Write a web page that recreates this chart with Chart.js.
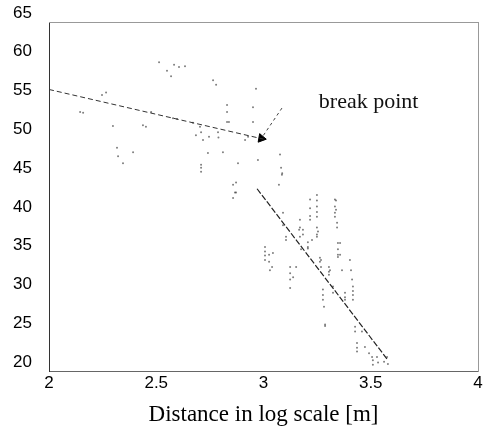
<!DOCTYPE html>
<html>
<head>
<meta charset="utf-8">
<script src="https://cdn.jsdelivr.net/npm/chart.js@4"></script>
<style>
    body { margin: 0; background: #fff; }
    #wrap { width: 485px; height: 438px; position: relative; }
</style>
</head>
<body>
<div id="wrap"><canvas id="chart"></canvas></div>
<script>
// Nuvem de pontos (distancia em log, valor)
const scatterX = [
    2.145, 2.159, 2.247, 2.266, 2.298, 2.317, 2.322, 2.345, 2.392, 2.438, 2.452, 2.476,
    2.513, 2.55, 2.569, 2.583, 2.606, 2.634, 2.578, 2.597, 2.671, 2.685, 2.704, 2.718,
    2.741, 2.746, 2.709, 2.709, 2.709, 2.709, 2.765, 2.779, 2.788, 2.79, 2.811, 2.83,
    2.83, 2.83, 2.839, 2.858, 2.867, 2.858, 2.881, 2.914, 2.928,
    2.872, 2.872, 2.951, 2.951, 2.965, 2.974, 3.077, 3.082, 3.087, 3.072, 3.086,
    3.007, 3.007, 3.007, 3.007, 3.026, 3.026, 3.040, 3.030, 3.044,
    3.091, 3.091, 3.105, 3.105,
    3.124, 3.124, 3.124, 3.124, 3.138, 3.152,
    3.170, 3.170, 3.170, 3.184, 3.184, 3.175, 3.166,
    3.207, 3.207, 3.207, 3.226,
    3.217, 3.217, 3.217, 3.217,
    3.249, 3.249, 3.249, 3.249, 3.249, 3.249, 3.249, 3.249, 3.254,
    3.263, 3.263, 3.268, 3.268,
    3.277, 3.277, 3.277, 3.282, 3.287, 3.287,
    3.305, 3.305, 3.305, 3.310,
    3.324, 3.324,
    3.333, 3.333, 3.333, 3.333, 3.338, 3.338, 3.343, 3.343, 3.347, 3.347, 3.347, 3.347,
    3.357, 3.357, 3.366,
    3.380, 3.380, 3.380,
    3.403, 3.408, 3.413, 3.417, 3.417, 3.417, 3.417,
    3.427, 3.427, 3.436, 3.436, 3.436,
    3.459, 3.473, 3.492, 3.506, 3.510, 3.510,
    3.529, 3.534, 3.562, 3.576, 3.58
];
const scatterY = [
    53.4, 53.3, 55.6, 55.9, 51.6, 48.8, 47.7, 46.8, 48.2, 51.7, 51.5, 53.4,
    59.8, 58.7, 58.0, 59.5, 59.2, 59.3, 52.6, 52.5, 52.0, 50.4, 51.5, 49.8,
    48.1, 50.2, 50.8, 46.6, 46.2, 45.7, 57.5, 56.9, 50.8, 50.1, 48.2, 54.3,
    53.4, 52.1, 52.1, 44.0, 43.0, 42.3, 46.8, 49.8, 50.2,
    44.3, 43.0, 54.0, 52.1, 56.4, 47.2, 47.9, 46.2, 45.5, 44.0, 45.3,
    36.0, 35.4, 34.9, 34.3, 34.1, 35.0, 33.4, 33.0, 35.2,
    38.8, 40.4, 37.3, 36.9,
    33.4, 32.6, 31.8, 30.7, 32.1, 33.4,
    39.5, 38.5, 37.3, 38.2, 37.6, 35.7, 38.2,
    36.0, 36.6, 35.8, 36.9,
    42.1, 41.0, 40.0, 39.5,
    42.7, 42.0, 41.2, 40.5, 39.9, 38.5, 37.6, 37.3, 38.0,
    34.6, 34.1, 34.3, 33.4,
    30.5, 29.8, 29.2, 28.3, 26.0, 25.8,
    33.4, 32.8, 32.4, 33.0,
    30.9, 30.1,
    42.1, 41.2, 40.4, 39.9, 42.0, 40.8, 39.1, 38.5, 36.5, 35.7, 35.0, 34.7,
    36.5, 35.0, 33.0,
    30.1, 29.5, 29.2,
    34.3, 33.0, 31.8, 30.9, 30.3, 29.8, 29.2,
    25.7, 25.1, 23.6, 23.0, 22.5,
    25.1, 23.1, 22.3, 21.8, 21.4, 20.8,
    21.8, 21.1, 21.2, 21.8, 20.9
];

// Retas ajustadas antes e depois do ponto de quebra
const fit1X = [2.0, 3.0];
const fit1Y = [56.3, 49.9];
const fit2X = [2.97, 3.58];
const fit2Y = [43.5, 21.4];

// Seta apontando o ponto de quebra
const arrowX = [3.086, 2.99];
const arrowY = [53.9, 50.0];
const breakLabel = 'break point';
const breakLabelX = 3.49;
const breakLabelY = 54.6;

const xTitle = 'Distance in log scale [m]';

function toPoints(xs, ys) {
    return xs.map((x, i) => ({ x: x, y: ys[i] }));
}

// Escreve o rotulo "break point" na posicao dos dados
const labelPlugin = {
    id: 'breakLabel',
    afterDatasetsDraw(chart) {
        const ctx = chart.ctx;
        const px = chart.scales.x.getPixelForValue(breakLabelX);
        const py = chart.scales.y.getPixelForValue(breakLabelY);
        ctx.save();
        ctx.font = '22px "Liberation Serif"';
        ctx.fillStyle = '#111';
        ctx.textAlign = 'center';
        ctx.textBaseline = 'middle';
        ctx.fillText(breakLabel, px, py);
        ctx.restore();
    }
};

const tickFont = { family: '"Liberation Sans", Arial, sans-serif', size: 17 };
const plainNumber = value => String(value);

new Chart(document.getElementById('chart'), {
    type: 'scatter',
    data: {
        datasets: [
            {
                data: toPoints(scatterX, scatterY),
                pointRadius: 1,
                pointBorderWidth: 0,
                backgroundColor: 'rgba(40,40,40,0.6)'
            },
            {
                data: toPoints(fit1X, fit1Y),
                showLine: true,
                pointRadius: 0,
                borderColor: '#333',
                borderWidth: 1,
                borderDash: [5, 3]
            },
            {
                data: toPoints(fit2X, fit2Y),
                showLine: true,
                pointRadius: 0,
                borderColor: '#222',
                borderWidth: 1.2,
                borderDash: [6, 2]
            },
            {
                data: toPoints(arrowX, arrowY),
                showLine: true,
                borderColor: '#444',
                borderWidth: 1,
                borderDash: [3, 3],
                pointStyle: 'triangle',
                pointRadius: [0, 5],
                rotation: [0, 100],
                backgroundColor: '#000',
                pointBorderColor: '#000'
            }
        ]
    },
    options: {
        responsive: true,
        maintainAspectRatio: false,
        animation: false,
        layout: { padding: { top: 22, right: 7, left: 0, bottom: 0 } },
        plugins: {
            legend: { display: false },
            tooltip: { enabled: false }
        },
        scales: {
            x: {
                type: 'linear',
                min: 2,
                max: 4,
                ticks: { stepSize: 0.5, color: '#000', font: tickFont, padding: 2, maxRotation: 0, callback: plainNumber },
                grid: { display: false, drawTicks: false },
                border: { display: true, color: '#666', dash: [7, 4] },
                title: {
                    display: true,
                    text: xTitle,
                    color: '#000',
                    font: { family: '"Liberation Serif", "Times New Roman", serif', size: 23 },
                    padding: { top: 0, bottom: 9 }
                },
                afterFit(scale) { scale.height = 67; }
            },
            y: {
                type: 'linear',
                min: 20,
                max: 65,
                ticks: { stepSize: 5, color: '#000', font: tickFont, padding: 0, labelOffset: -9, callback: plainNumber },
                // marcas invisiveis so para afastar os rotulos do eixo
                grid: { display: false, drawTicks: true, tickLength: 17 },
                border: { display: true, color: '#333', width: 1 },
                afterFit(scale) { scale.width = 49; }
            },
            x2: {
                type: 'linear',
                position: 'top',
                min: 2,
                max: 4,
                ticks: { display: false },
                grid: { display: false, drawTicks: false },
                border: { display: true, color: '#999', dash: [6, 6] },
                afterFit(scale) { scale.height = 0; }
            },
            y2: {
                type: 'linear',
                position: 'right',
                min: 20,
                max: 65,
                ticks: { display: false },
                grid: { display: false, drawTicks: false },
                border: { display: true, color: '#999', dash: [2, 9] },
                afterFit(scale) { scale.width = 0; }
            }
        }
    },
    plugins: [labelPlugin]
});
</script>
</body>
</html>
